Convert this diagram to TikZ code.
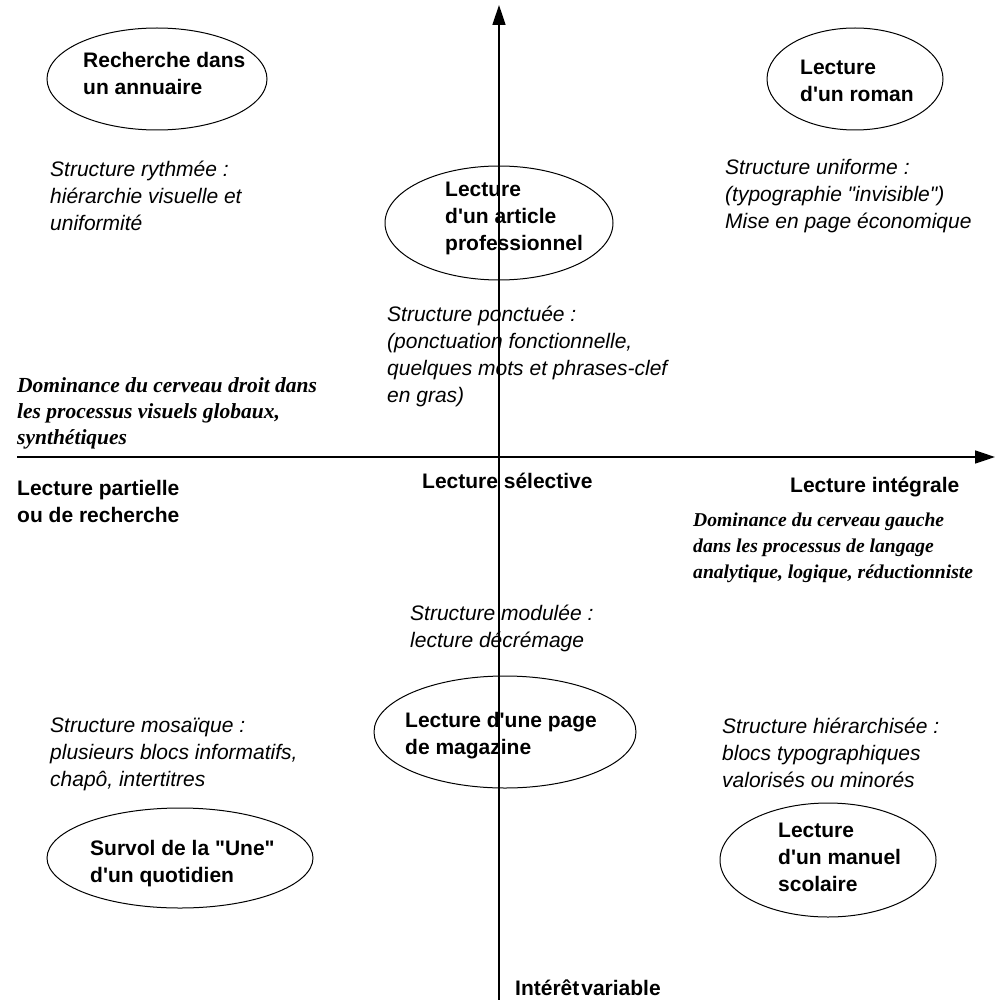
\documentclass[tikz,border=0pt]{standalone}
\usepackage{fontspec}
\setmainfont{Liberation Sans}[Ligatures=TeXOff]
\newfontfamily\domfont{Liberation Serif}[Ligatures=TeXOff]
\usetikzlibrary{shapes.geometric,arrows.meta}
\newcommand\mstack[2][27pt]{\vtop{\baselineskip=#1\lineskip=0pt\lineskiplimit=0pt\halign{##\hfil\cr#2\crcr}}}
\tikzset{
  oval/.style={draw, ellipse, line width=1pt, inner sep=0pt},
  lbl/.style={anchor=base west, inner sep=0pt, font=\fontsize{21}{27}\selectfont\bfseries},
  note/.style={anchor=base west, inner sep=0pt, font=\fontsize{21}{27}\selectfont\itshape},
  dom/.style={anchor=base west, inner sep=0pt, font=\domfont\fontsize{21.5}{26}\selectfont\bfseries\itshape},
  domr/.style={dom, font=\domfont\fontsize{19.6}{26}\selectfont\bfseries\itshape},
  axis/.style={line width=1.5pt, -{Triangle[length=20pt,width=13pt]}}
}
\begin{document}
\begin{tikzpicture}[x=1pt,y=-1pt]
\useasboundingbox (0,0) rectangle (1000,1000);
% ellipses
\node[oval, minimum width=220pt, minimum height=102pt] (e1) at (157,79) {};
\node[oval, minimum width=176pt, minimum height=102pt] (e2) at (855,79) {};
\node[oval, minimum width=228pt, minimum height=114pt] (e3) at (499,223) {};
\node[oval, minimum width=262pt, minimum height=112pt] (e4) at (505,732) {};
\node[oval, minimum width=266pt, minimum height=100pt] (e5) at (180,858) {};
\node[oval, minimum width=216pt, minimum height=114pt] (e6) at (828,860) {};
% ellipse texts
\node[lbl] (t1) at (83,68) {\mstack{Recherche dans\cr un annuaire}};
\node[lbl] (t2) at (800,75) {\mstack{Lecture\cr d'un roman}};
\node[lbl] (t3) at (445,197) {\mstack{Lecture\cr d'un article\cr professionnel}};
\node[lbl] (t4) at (405,727) {\mstack{Lecture d'une page\cr de magazine}};
\node[lbl] (t5) at (90,855) {\mstack{Survol de la "Une"\cr d'un quotidien}};
\node[lbl] (t6) at (778,837) {\mstack{Lecture\cr d'un manuel\cr scolaire}};
% structure notes
\node[note] (n1) at (50,177) {\mstack{Structure rythmée :\cr hiérarchie visuelle et\cr uniformité}};
\node[note] (n2) at (725,175) {\mstack{Structure uniforme :\cr (typographie "invisible")\cr Mise en page économique}};
\node[note] (n3) at (387,321) {\mstack{Structure ponctuée :\cr (ponctuation fonctionnelle,\cr quelques mots et phrases-clef\cr en gras)}};
\node[note] (n4) at (410,620) {\mstack{Structure modulée :\cr lecture décrémage}};
\node[note] (n5) at (50,732) {\mstack{Structure mosaïque :\cr plusieurs blocs informatifs,\cr chapô, intertitres}};
\node[note] (n6) at (722,733) {\mstack{Structure hiérarchisée :\cr blocs typographiques\cr valorisés ou minorés}};
% dominance
\node[dom] (d1) at (17,392) {\mstack[26pt]{Dominance du cerveau droit dans\cr les processus visuels globaux,\cr synthétiques}};
\node[domr] (d2) at (693,526) {\mstack[26pt]{Dominance du cerveau gauche\cr dans les processus de langage\cr analytique, logique, réductionniste}};
% axis labels
\node[lbl] (a1) at (17,495) {\mstack{Lecture partielle\cr ou de recherche}};
\node[lbl] (a2) at (422,488) {Lecture sélective};
\node[lbl] (a3) at (790,492) {Lecture intégrale};
\node[lbl] (a4) at (515,995) {Intérêt\hspace{2pt}variable};
% axes
\coordinate (vb) at (499,1000);
\coordinate (vt) at (499,5);
\coordinate (hl) at (17,457);
\coordinate (hr) at (995,457);
\draw[axis] (vb) -- (vt);
\draw[axis] (hl) -- (hr);
\end{tikzpicture}
\end{document}
